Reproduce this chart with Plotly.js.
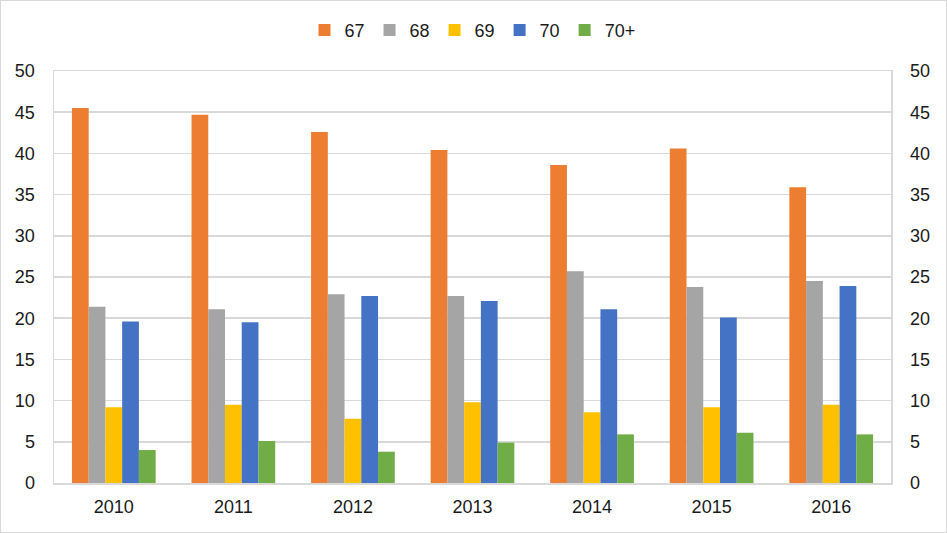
<!DOCTYPE html>
<html>
<head>
<meta charset="utf-8">
<script src="https://cdn.plot.ly/plotly-3.0.1.min.js"></script>
<style>
html,body{margin:0;padding:0;background:#fff;}
#chart{width:945px;height:531px;border:1px solid #d9d9d9;}
</style>
</head>
<body>
<div id="chart"></div>
<script>
const years = ['2010','2011','2012','2013','2014','2015','2016'];
const seriesNames = ['67','68','69','70','70+'];
const v67  = [45.5, 44.7, 42.6, 40.4, 38.6, 40.6, 35.9];
const v68  = [21.4, 21.1, 22.9, 22.7, 25.7, 23.8, 24.5];
const v69  = [9.2, 9.5, 7.8, 9.8, 8.6, 9.2, 9.5];
const v70  = [19.6, 19.5, 22.7, 22.1, 21.1, 20.1, 23.9];
const v70p = [4.0, 5.1, 3.8, 4.9, 5.9, 6.1, 5.9];
const colors = ['#ed7d31','#a5a5a5','#ffc000','#4472c4','#70ad47'];

const all = [v67, v68, v69, v70, v70p];
const traces = all.map((vals, i) => ({
  type: 'bar',
  name: seriesNames[i],
  x: years,
  y: vals,
  marker: {color: colors[i]},
  hoverinfo: 'x+y+name'
}));
// invisible helper so the secondary (right) value axis is drawn
traces.push({
  type: 'scatter', mode: 'markers', x: years, y: v67, yaxis: 'y2',
  marker: {opacity: 0}, showlegend: false, hoverinfo: 'skip'
});

const axisFont = {family: 'Liberation Sans, Arial, sans-serif', size: 18, color: '#1a1a1a'};
const layout = {
  width: 945, height: 531,
  margin: {l: 53, r: 55, t: 70, b: 49},
  paper_bgcolor: '#ffffff',
  plot_bgcolor: '#ffffff',
  barmode: 'group',
  bargap: 0.3,
  bargroupgap: 0,
  font: axisFont,
  showlegend: true,
  legend: {
    orientation: 'h',
    x: 0.5, xanchor: 'center',
    yref: 'container', y: 0.945, yanchor: 'middle',
    font: {family: 'Liberation Sans, Arial, sans-serif', size: 18, color: '#1a1a1a'},
    itemwidth: 30,
    tracegroupgap: 0
  },
  xaxis: {
    type: 'category',
    showline: true, linecolor: '#d9d9d9', linewidth: 1.5, mirror: true,
    ticks: '', tickfont: axisFont,
    showgrid: false,
    ticklabelstandoff: 7
  },
  yaxis: {
    range: [0, 50], dtick: 5,
    showgrid: true, gridcolor: '#d9d9d9', gridwidth: 1.5,
    showline: true, linecolor: '#d9d9d9', linewidth: 1.5,
    zeroline: false, ticks: '', tickfont: axisFont,
    ticklabelstandoff: 14
  },
  yaxis2: {
    overlaying: 'y', side: 'right',
    range: [0, 50], dtick: 5,
    showgrid: false, showline: true, linecolor: '#d9d9d9', linewidth: 1.5,
    zeroline: false, ticks: '', tickfont: axisFont,
    ticklabelstandoff: 14
  }
};

Plotly.newPlot('chart', traces, layout, {displayModeBar: false, staticPlot: true});
</script>
</body>
</html>
